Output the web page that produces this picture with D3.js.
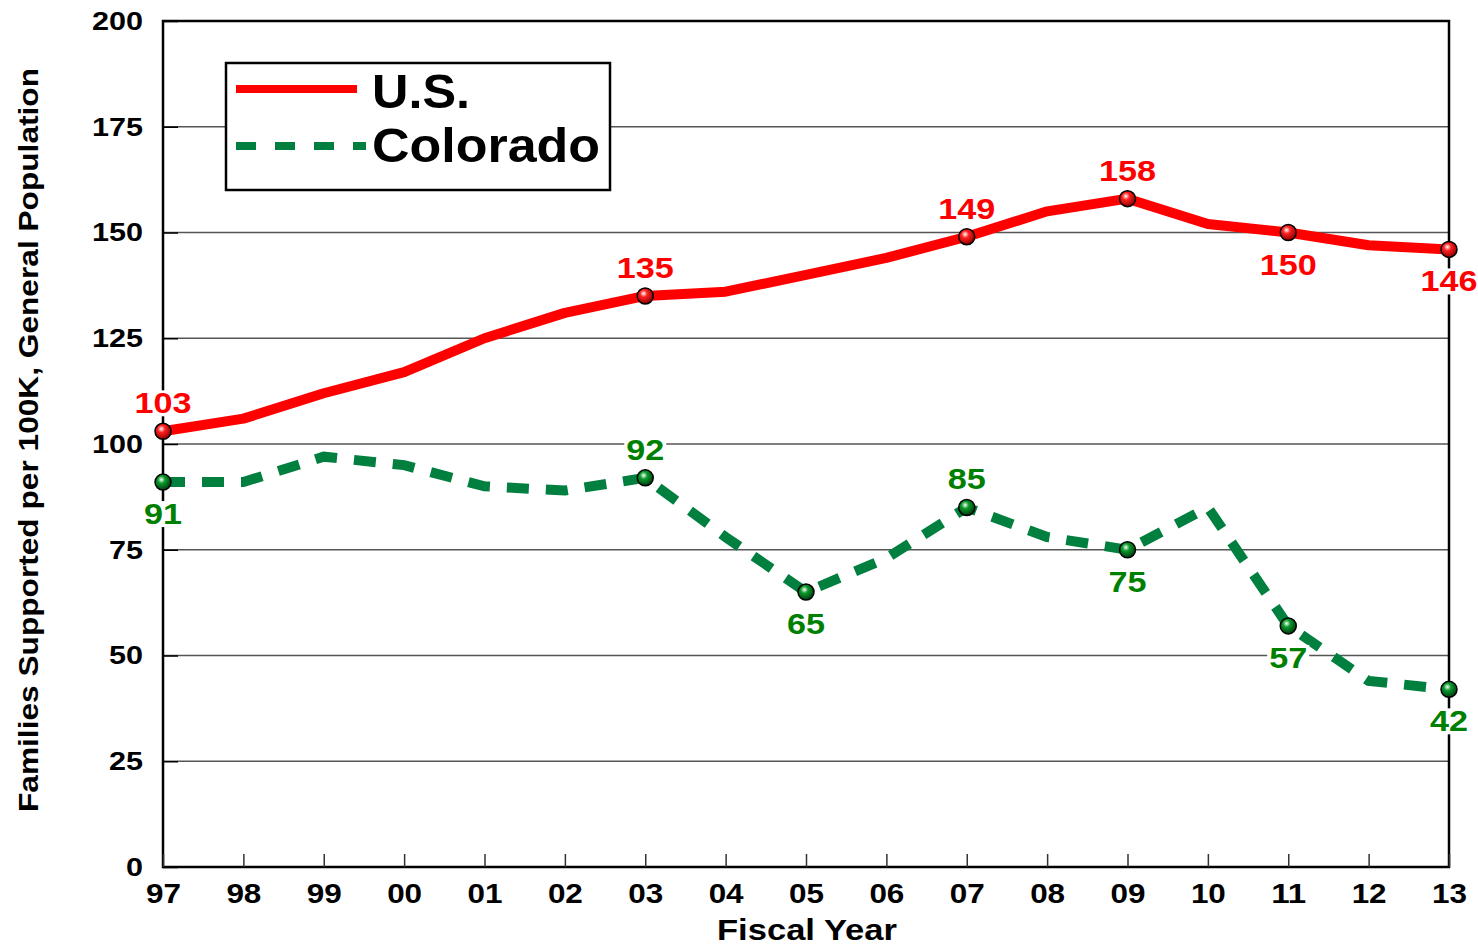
<!DOCTYPE html>
<html>
<head>
  <meta charset="utf-8">
  <title>Families Supported per 100K</title>
  <script src="https://d3js.org/d3.v7.min.js"></script>
  <style>
    html, body { margin: 0; overflow: hidden; height: 100%; background: #fff; }
    text { font-family: Arial, "Liberation Sans", sans-serif; font-weight: bold; }
  </style>
</head>
<body>
<svg width="1478" height="948"></svg>

<script>
// fiscal years (two-digit)
const years = ["97","98","99","00","01","02","03","04","05","06","07","08","09","10","11","12","13"];
const usValues = [103, 106, 112, 117, 125, 131, 135, 136, 140, 144, 149, 155, 158, 152, 150, 147, 146];
const coValues = [91, 91, 97, 95, 90, 89, 92, 78, 65, 73, 85, 78, 75, 85, 57, 44, 42];
const yTicks = [0, 25, 50, 75, 100, 125, 150, 175, 200];

// which points get a label, and whether it sits above or below
const usLabels = [["97", "above"], ["03", "above"], ["07", "above"], ["09", "above"], ["11", "below"], ["13", "below"]];
const coLabels = [["97", "below"], ["03", "above"], ["05", "below"], ["07", "above"], ["09", "below"], ["11", "below"], ["13", "below"]];

const margin = { top: 21, right: 29, bottom: 81, left: 163 };
const width = 1478, height = 948;

const svg = d3.select("svg");

const x = d3.scalePoint().domain(years).range([margin.left, width - margin.right]);
const y = d3.scaleLinear().domain([0, 200]).range([height - margin.bottom, margin.top]);

// sphere gradients for the markers
const defs = svg.append("defs");
function sphere(id, light, mid, dark) {
  const g = defs.append("radialGradient").attr("id", id)
    .attr("cx", "40%").attr("cy", "35%").attr("r", "65%");
  g.append("stop").attr("offset", "0%").attr("stop-color", light);
  g.append("stop").attr("offset", "35%").attr("stop-color", mid);
  g.append("stop").attr("offset", "100%").attr("stop-color", dark);
}
sphere("redBall", "#ffffff", "#ff2020", "#900000");
sphere("greenBall", "#ffffff", "#0a9a2a", "#003d10");

// gridlines
svg.append("g")
  .selectAll("line")
  .data(yTicks.filter(d => d > 0 && d < 200))
  .join("line")
  .attr("x1", margin.left).attr("x2", width - margin.right)
  .attr("y1", d => y(d)).attr("y2", d => y(d))
  .attr("stroke", "#555").attr("stroke-width", 1.5);

// frame
svg.append("rect")
  .attr("x", margin.left).attr("y", margin.top)
  .attr("width", width - margin.right - margin.left)
  .attr("height", height - margin.bottom - margin.top)
  .attr("fill", "none").attr("stroke", "#000").attr("stroke-width", 2.5);

// the original font is wider than Liberation, stretch a bit
const widen = (sel, perChar) => sel.attr("textLength", function () { return this.textContent.length * perChar; })
  .attr("lengthAdjust", "spacingAndGlyphs");

// y axis: ticks drawn inward
const yAxis = svg.append("g")
  .attr("transform", `translate(${margin.left},0)`)
  .call(d3.axisLeft(y).tickValues(yTicks).tickSizeInner(-15).tickSizeOuter(0).tickPadding(20));
yAxis.select(".domain").remove();
yAxis.selectAll(".tick line").attr("stroke", "#000").attr("stroke-width", 1.5);
yAxis.selectAll(".tick text")
  .attr("font-size", 26).attr("font-family", "Arial, 'Liberation Sans', sans-serif")
  .attr("font-weight", "bold").attr("fill", "#000")
  .call(widen, 17);

// x axis
const xAxis = svg.append("g")
  .attr("transform", `translate(0,${height - margin.bottom})`)
  .call(d3.axisBottom(x).tickSizeInner(-13).tickSizeOuter(0).tickPadding(17));
xAxis.select(".domain").remove();
xAxis.selectAll(".tick line").attr("stroke", "#333").attr("stroke-width", 1.5);
xAxis.selectAll(".tick text")
  .attr("font-size", 27).attr("font-family", "Arial, 'Liberation Sans', sans-serif")
  .attr("font-weight", "bold").attr("fill", "#000")
  .call(widen, 17.5);

// axis titles
svg.append("text")
  .attr("transform", `translate(38,${(margin.top + height - margin.bottom) / 2 - 4}) rotate(-90)`)
  .attr("text-anchor", "middle")
  .attr("font-size", 27)
  .attr("textLength", 744).attr("lengthAdjust", "spacingAndGlyphs")
  .text("Families Supported per 100K, General Population");

svg.append("text")
  .attr("x", 807).attr("y", 940)
  .attr("text-anchor", "middle")
  .attr("font-size", 30)
  .attr("textLength", 180).attr("lengthAdjust", "spacingAndGlyphs")
  .text("Fiscal Year");

// lines
const usData = years.map((yr, i) => ({ yr, v: usValues[i] }));
const coData = years.map((yr, i) => ({ yr, v: coValues[i] }));
const line = d3.line().x(d => x(d.yr)).y(d => y(d.v));

svg.append("path").datum(coData)
  .attr("d", line).attr("fill", "none")
  .attr("stroke", "#007f3f").attr("stroke-width", 10)
  .attr("stroke-dasharray", "22,17");

svg.append("path").datum(usData)
  .attr("d", line).attr("fill", "none")
  .attr("stroke", "#ff0000").attr("stroke-width", 10)
  .attr("stroke-linejoin", "round");

// markers and value labels
function marks(data, labels, ball, color) {
  const pts = labels.map(([yr, pos]) => ({ ...data.find(d => d.yr === yr), pos }));
  svg.append("g").selectAll("circle").data(pts).join("circle")
    .attr("cx", d => x(d.yr)).attr("cy", d => y(d.v)).attr("r", 8)
    .attr("fill", `url(#${ball})`).attr("stroke", "#000").attr("stroke-width", 1.5);

  const lab = svg.append("g").selectAll("g").data(pts).join("g")
    .attr("transform", d => `translate(${x(d.yr)},${y(d.v) + (d.pos === "above" ? -18 : 42)})`);
  lab.append("rect")
    .attr("y", -23).attr("height", 26)
    .attr("fill", "#fff");
  lab.append("text")
    .attr("text-anchor", "middle")
    .attr("font-size", 29)
    .attr("fill", color)
    .text(d => d.v)
    .call(widen, 19);
  lab.each(function () {
    const n = String(d3.select(this).datum().v).length * 19;
    d3.select(this).select("rect")
      .attr("x", -n / 2 - 2).attr("width", n + 4);
  });
}
marks(coData, coLabels, "greenBall", "#008000");
marks(usData, usLabels, "redBall", "#ff0000");

// legend
const legend = svg.append("g").attr("transform", "translate(226,63)");
legend.append("rect")
  .attr("width", 384).attr("height", 127)
  .attr("fill", "#fff").attr("stroke", "#000").attr("stroke-width", 2.5);
legend.append("line")
  .attr("x1", 10).attr("x2", 131).attr("y1", 26).attr("y2", 26)
  .attr("stroke", "#ff0000").attr("stroke-width", 8);
legend.append("line")
  .attr("x1", 10).attr("x2", 140).attr("y1", 83).attr("y2", 83)
  .attr("stroke", "#007f3f").attr("stroke-width", 8)
  .attr("stroke-dasharray", "20,19");
legend.append("text")
  .attr("x", 146).attr("y", 45)
  .attr("font-size", 49)
  .attr("textLength", 98).attr("lengthAdjust", "spacingAndGlyphs")
  .text("U.S.");
legend.append("text")
  .attr("x", 146).attr("y", 99)
  .attr("font-size", 49)
  .attr("textLength", 228).attr("lengthAdjust", "spacingAndGlyphs")
  .text("Colorado");
</script>
</body>
</html>
